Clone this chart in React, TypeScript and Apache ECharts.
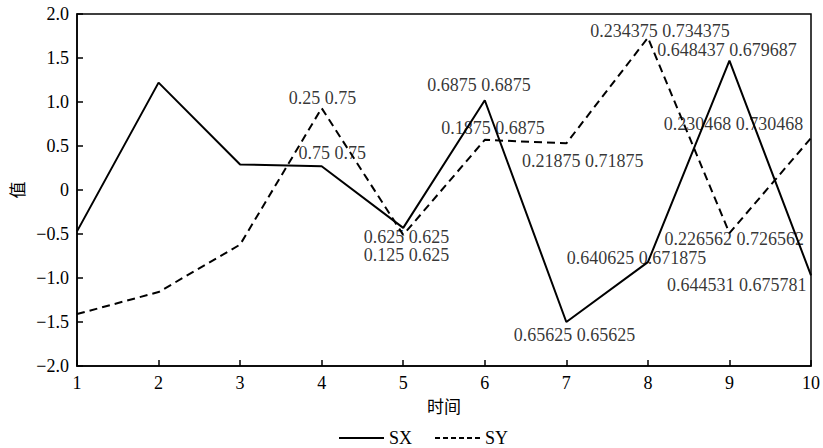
import React, { useEffect, useRef } from "react";
import * as echarts from "echarts";

const xValues = [1, 2, 3, 4, 5, 6, 7, 8, 9, 10];
const sxValues = [-0.47, 1.22, 0.29, 0.27, -0.43, 1.02, -1.5, -0.82, 1.47, -0.97];
const syValues = [-1.41, -1.16, -0.62, 0.93, -0.51, 0.57, 0.53, 1.73, -0.49, 0.59];

const annotText = [
  "0.25 0.75",
  "0.75 0.75",
  "0.625 0.625",
  "0.125 0.625",
  "0.6875 0.6875",
  "0.1875 0.6875",
  "0.21875 0.71875",
  "0.234375 0.734375",
  "0.648437 0.679687",
  "0.230468 0.730468",
  "0.226562 0.726562",
  "0.640625 0.671875",
  "0.644531 0.675781",
  "0.65625 0.65625",
];
const annotX = [4.01, 4.13, 5.04, 5.04, 5.93, 6.1, 7.2, 8.15, 8.97, 9.05, 9.06, 7.86, 9.09, 7.1];
const annotY = [1.045, 0.42, -0.53, -0.74, 1.19, 0.7, 0.33, 1.81, 1.59, 0.75, -0.56, -0.77, -1.08, -1.65];

const seriesNames = ["SX", "SY"];
const xName = "时间";
const yName = "值";

const FONT = "Liberation Serif, Times New Roman, serif";
const CJK = "Noto Sans CJK SC, sans-serif";

export default function App() {
  const ref = useRef<HTMLDivElement>(null);
  useEffect(() => {
    if (!ref.current) return;
    const chart = echarts.init(ref.current, undefined, { renderer: "svg" });
    const fmt = (v: number) => (v === 0 ? "0" : v.toFixed(1).replace("-", "\u2212"));
    chart.setOption({
      animation: false,
      backgroundColor: "#fff",
      textStyle: { fontFamily: FONT, color: "#000" },
      grid: {
        left: 77,
        right: 10,
        top: 14,
        bottom: 82,
        show: true,
        borderColor: "#000",
        borderWidth: 1.5,
      },
      legend: {
        data: [
          { name: seriesNames[0] },
          { name: seriesNames[1], lineStyle: { type: [5, 3], width: 2 } },
        ],
        left: 338,
        top: 429,
        padding: 0,
        itemWidth: 45,
        itemHeight: 10,
        itemGap: 22,
        itemStyle: { opacity: 0 },
        textStyle: { fontFamily: FONT, fontSize: 18, color: "#000" },
      },
      xAxis: {
        type: "value",
        min: 1,
        max: 10,
        interval: 1,
        name: xName,
        nameLocation: "middle",
        nameGap: 31,
        nameTextStyle: { fontFamily: CJK, fontSize: 17, color: "#000" },
        axisLine: { onZero: false, lineStyle: { color: "#000", width: 1.5 } },
        axisTick: { inside: true, length: 6, lineStyle: { color: "#000", width: 1.5 } },
        axisLabel: { fontFamily: FONT, fontSize: 18, color: "#000", margin: 8 },
        splitLine: { show: false },
      },
      yAxis: {
        type: "value",
        min: -2,
        max: 2,
        interval: 0.5,
        name: yName,
        nameLocation: "middle",
        nameGap: 52,
        nameRotate: 90,
        nameTextStyle: { fontFamily: CJK, fontSize: 17, color: "#000" },
        axisLine: { show: true, onZero: false, lineStyle: { color: "#000", width: 1.5 } },
        axisTick: { show: true, inside: true, length: 6, lineStyle: { color: "#000", width: 1.5 } },
        axisLabel: { fontFamily: FONT, fontSize: 18, color: "#000", margin: 8, formatter: fmt },
        splitLine: { show: false },
      },
      series: [
        {
          name: seriesNames[0],
          type: "line",
          symbol: "none",
          data: xValues.map((x, i) => [x, sxValues[i]]),
          lineStyle: { color: "#000", width: 2, type: "solid" },
          itemStyle: { color: "#000" },
        },
        {
          name: seriesNames[1],
          type: "line",
          symbol: "none",
          data: xValues.map((x, i) => [x, syValues[i]]),
          lineStyle: { color: "#000", width: 2, type: [8, 5] },
          itemStyle: { color: "#000" },
        },
        {
          name: "annotations",
          type: "scatter",
          symbolSize: 0,
          silent: true,
          z: 5,
          data: annotText.map((t, i) => ({ name: t, value: [annotX[i], annotY[i]] })),
          label: {
            show: true,
            position: "inside",
            formatter: (p: any) => p.name,
            fontFamily: FONT,
            fontSize: 18,
            color: "#000",
          },
        },
      ],
    });
    return () => chart.dispose();
  }, []);
  return (
    <div
      ref={ref}
      style={{ position: "fixed", left: 0, top: 0, width: 823, height: 448, background: "#fff" }}
    />
  );
}
